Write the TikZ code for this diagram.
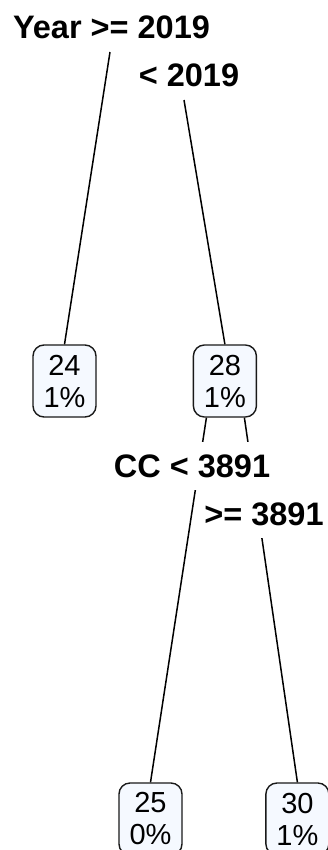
\documentclass[tikz,border=0pt]{standalone}
\usepackage{fontspec}
\setmainfont{Liberation Sans}
\usetikzlibrary{positioning}
\definecolor{leafblue}{RGB}{245,249,255}
\tikzset{
	leaf/.style={draw=black!90, line width=1.4pt, fill=leafblue, rounded corners=11pt,
		minimum width=63pt, minimum height=72pt, inner sep=0pt, align=center,
		font=\fontsize{29}{32}\selectfont},
	splitlabel/.style={fill=white, inner xsep=2pt, inner ysep=12.5pt, anchor=base,
		font=\fontsize{32.5}{36}\selectfont\bfseries},
	branch/.style={line width=1.5pt},
}

\begin{document}
\begin{tikzpicture}[x=1pt,y=-1pt]
	\useasboundingbox (0,0) rectangle (327,850);
	%% leaves
	\node[leaf] (n24) at (64.5,381) {24\\1\%};
	\node[leaf, right=96pt of n24] (n28) {28\\1\%};
	\node[leaf] (n25) at (150.5,819) {25\\0\%};
	\node[leaf, right=82.5pt of n25] (n30) {30\\1\%};
	% lower branches, cut by the labels
	\draw[branch] ([xshift=-18.5pt]n28.south) -- (n25.north);
	\draw[branch] ([xshift=19.5pt]n28.south) -- (n30.north);
	%% split labels
	\node[splitlabel] (lYear) at (111.5,39) {Year >= 2019};
	\node[splitlabel] (lLt) at (189,87) {< 2019};
	\node[splitlabel] (lCC) at (192,477) {CC < 3891};
	\node[splitlabel] (lGe) at (264,525) {>= 3891};
	% upper branches
	\draw[branch] ([xshift=-1.5pt]lYear.south) -- (n24.north);
	\draw[branch] ([xshift=-5pt]lLt.south) -- (n28.north);
\end{tikzpicture}
\end{document}
